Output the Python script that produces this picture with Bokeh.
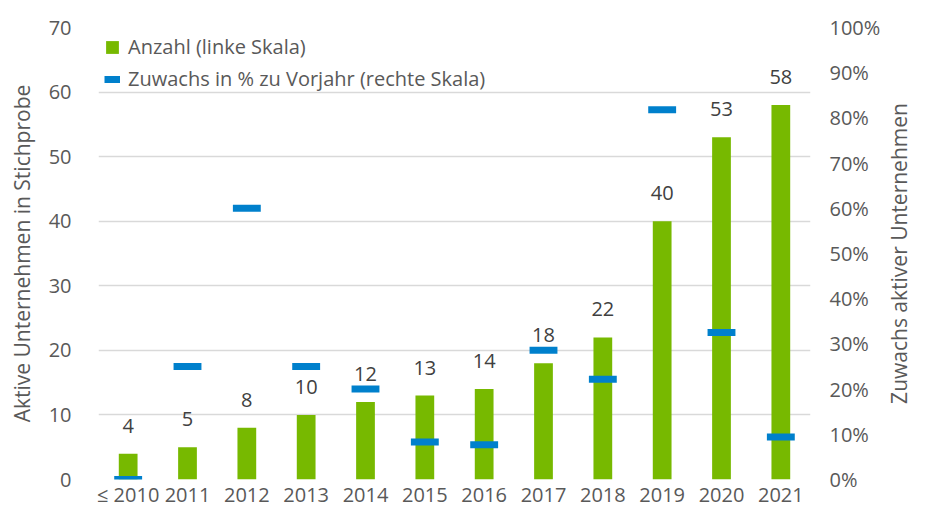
import math
from bokeh.plotting import figure
from bokeh.layouts import row
from bokeh.core.properties import value
from bokeh.models import (ColumnDataSource, Range1d, LinearAxis, SingleIntervalTicker,
                          NumeralTickFormatter, FactorRange, Legend, LegendItem)
from bokeh.transform import dodge
from bokeh.embed import file_html
from bokeh.resources import INLINE

categories = ["≤ 2010", "2011", "2012", "2013", "2014", "2015", "2016",
              "2017", "2018", "2019", "2020", "2021"]
anzahl = [4, 5, 8, 10, 12, 13, 14, 18, 22, 40, 53, 58]
zuwachs_pct = [0.0, 25.0, 60.0, 25.0, 20.0, 8.3, 7.7, 28.6, 22.2, 81.8, 32.5, 9.4]
labels = [str(v) for v in anzahl]
left_title = "Aktive Unternehmen in Stichprobe"
right_title = "Zuwachs aktiver Unternehmen"

FONT = "Open Sans"
GRAY = "#595959"
GREEN = "#77b900"
BLUE = "#0080cc"
FS = "20px"
TFS = "21px"

W, H = 883, 510
W2 = 913 - W
BL, BR, BT, BB = 98, 69, 27, 27

src = ColumnDataSource(dict(cat=categories, n=anzahl,
                            z=[v / 100.0 for v in zuwachs_pct], lab=labels))

p = figure(width=W, height=H, x_range=FactorRange(factors=categories),
           y_range=Range1d(0, 70), output_backend="svg", toolbar_location=None,
           min_border_left=BL, min_border_right=BR, min_border_top=BT,
           min_border_bottom=BB)
p.outline_line_color = None
p.background_fill_color = "white"
p.border_fill_color = "white"
p.extra_y_ranges = {"pct": Range1d(0, 1)}

bars = p.vbar(x="cat", top="n", width=0.316, source=src, fill_color=GREEN,
              line_color=None)
seg = p.segment(x0=dodge("cat", -0.235, range=p.x_range), y0="z",
                x1=dodge("cat", 0.235, range=p.x_range), y1="z",
                y_range_name="pct", source=src, line_color=BLUE, line_width=7,
                line_cap="butt")
p.text(x="cat", y="n", text="lab", source=src, y_offset=-28,
       text_align="center", text_baseline="middle", text_font=value(FONT),
       text_font_size=FS, text_color="#404040")

# left axis
la = p.yaxis[0]
la.ticker = SingleIntervalTicker(interval=10)
la.axis_label = left_title
# right axis
ra = LinearAxis(y_range_name="pct", ticker=SingleIntervalTicker(interval=0.1),
                formatter=NumeralTickFormatter(format="0%"))
p.add_layout(ra, "right")

xa = p.xaxis[0]
for ax in [la, ra, xa]:
    ax.axis_line_color = None
    ax.major_tick_line_color = None
    ax.minor_tick_line_color = None
    ax.major_tick_out = 0
    ax.major_tick_in = 0
    ax.minor_tick_out = 0
    ax.minor_tick_in = 0
    ax.major_label_text_font = FONT
    ax.major_label_text_font_size = FS
    ax.major_label_text_color = GRAY
    ax.axis_label_text_font = FONT
    ax.axis_label_text_font_size = TFS
    ax.axis_label_text_font_style = "normal"
    ax.axis_label_text_color = GRAY
la.major_label_standoff = 27
ra.major_label_standoff = 19
la.axis_label_standoff = 10
xa.major_label_standoff = 1

p.xgrid.grid_line_color = None
p.ygrid.grid_line_color = "#d9d9d9"
p.ygrid.grid_line_width = 1.5
p.ygrid.ticker = la.ticker

legend = Legend(items=[LegendItem(label="Anzahl (linke Skala)", renderers=[bars]),
                       LegendItem(label="Zuwachs in % zu Vorjahr (rechte Skala)", renderers=[seg])],
                location="top_left")
legend.background_fill_alpha = 0
legend.border_line_alpha = 0
legend.margin = 0
legend.padding = 6
legend.spacing = 5
legend.glyph_width = 16
legend.glyph_height = 16
legend.label_standoff = 8
legend.label_text_font = FONT
legend.label_text_font_size = FS
legend.label_text_color = GRAY
p.add_layout(legend)

# narrow strip holding the right-hand axis title (reads bottom-to-top)
p2 = figure(width=W2, height=H, x_range=Range1d(0, 1), y_range=Range1d(0, H),
            output_backend="svg", toolbar_location=None,
            x_axis_location=None, y_axis_location=None,
            min_border_left=0, min_border_right=0, min_border_top=0,
            min_border_bottom=0)
p2.outline_line_color = None
p2.xgrid.grid_line_color = None
p2.ygrid.grid_line_color = None
p2.text(x=[0.5], y=[H - (BT + (H - BT - BB) / 2)], text=[right_title],
        angle=math.pi / 2, text_align="center", text_baseline="middle",
        text_font=value(FONT), text_font_size=TFS, text_color=GRAY)

layout = row(p, p2, spacing=0)
open("out.html", "w").write(file_html(layout, INLINE))
